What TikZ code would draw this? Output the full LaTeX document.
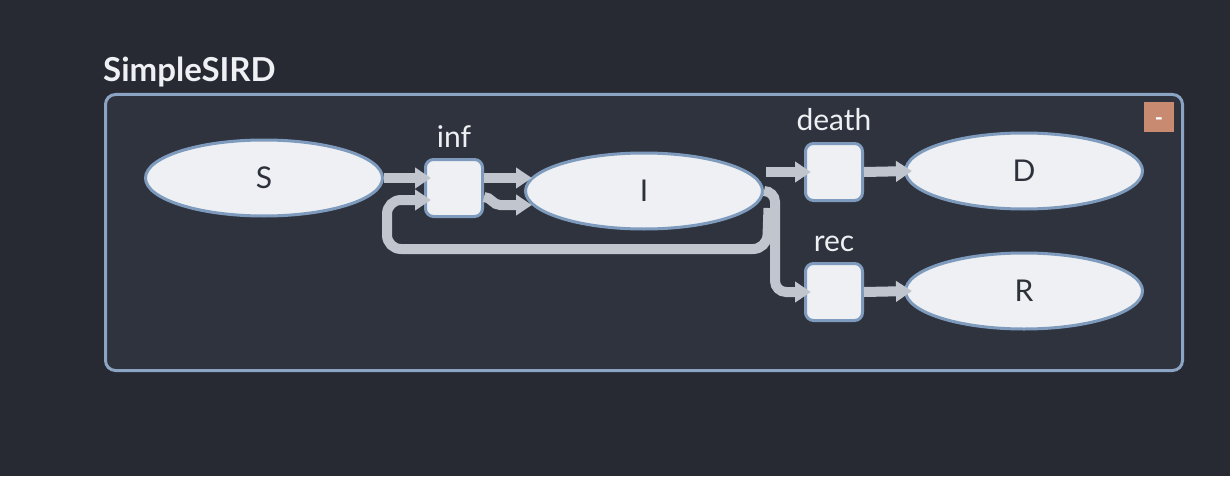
\documentclass[tikz,border=0pt]{standalone}
\usepackage{fontspec}
\setmainfont{Lato}
\usetikzlibrary{shapes.geometric,arrows.meta,calc}
\definecolor{bgout}{HTML}{272A33}
\definecolor{panelf}{HTML}{2F333E}
\definecolor{panelb}{HTML}{8BA4C3}
\definecolor{nodef}{HTML}{EEF0F4}
\definecolor{nodeb}{HTML}{7E9BBD}
\definecolor{arrowc}{HTML}{C1C5CD}
\definecolor{txtdark}{HTML}{2D313A}
\definecolor{txtlight}{HTML}{EEF0F4}
\definecolor{minusc}{HTML}{C98A72}
\begin{document}
\begin{tikzpicture}[x=1pt,y=-1pt,
  panel/.style={draw=panelb, fill=panelf, line width=3pt, rounded corners=10pt, minimum width=1077pt, minimum height=276pt, inner sep=0pt},
  place/.style={ellipse, draw=nodeb, fill=nodef, line width=3pt, minimum width=237pt, minimum height=76pt, inner sep=0pt, font=\fontsize{30}{32}\selectfont, text=txtdark},
  trans/.style={rectangle, rounded corners=8pt, draw=nodeb, fill=nodef, line width=3pt, minimum size=57pt, inner sep=0pt},
  lbl/.style={text=txtlight, font=\fontsize{30}{32}\selectfont, inner sep=0pt, anchor=base},
  flow/.style={draw=arrowc, line width=10pt, -{Triangle[length=16pt,width=20pt]}},
  titlest/.style={text=txtlight, font=\fontsize{33}{35}\selectfont\bfseries, inner sep=0pt, anchor=base west},
  minusbox/.style={fill=minusc, minimum size=30pt, inner sep=0pt},
  dashtxt/.style={text=white, font=\fontsize{22}{22}\selectfont\bfseries, inner sep=0pt, anchor=base}
]
\fill[bgout] (0,0) rectangle (1230,476);
\useasboundingbox (0,0) rectangle (1230,476);

\node[titlest] (title) at (103,82) {SimpleSIRD};
\node[panel] (sys) at (644,232.5) {};
\node[minusbox] (minus) at (1159,117) {};
\node[dashtxt] (minusl) at ([yshift=-8.5pt]minus.center) {-};

\node[place] (S) at (264,178) {S};
\node[place] (I) at (644,191) {I};
\node[place] (D) at (1024,171) {D};
\node[place] (R) at (1024,291) {R};

\node[trans] (inf) at (454,188) {};
\node[trans] (death) at (834,172) {};
\node[trans] (rec) at (834,292) {};

\node[lbl] (infl) at ([yshift=11pt]inf.north) {inf};
\node[lbl] (deathl) at ([yshift=11pt]death.north) {death};
\node[lbl] (recl) at ([yshift=11pt]rec.north) {rec};

\coordinate (fbT) at ([shift={(7pt,-12pt)}]inf.west);
\coordinate (fbR) at (767,249);
\coordinate (fbL) at (387,249);
\coordinate (rcTop) at (775,191);
\coordinate (rcBot) at (775,292);

\draw[flow] (S.east) -- ([shift={(7pt,10pt)}]inf.west);
\draw[flow] ([yshift=10pt]inf.east) -- ([shift={(8pt,13pt)}]I.west);
\draw[flow] ([yshift=-9pt]inf.east) to[out=0,in=180] ([shift={(16pt,-17pt)}]inf.east) -- ([shift={(8pt,-14pt)}]I.west);
\draw[flow, rounded corners=14pt] ([shift={(4.5pt,-17pt)}]I.east) -- (fbR) -- (fbL) -- (fbL |- fbT) -- (fbT);
\draw[flow] ([shift={(2pt,19pt)}]I.east) -- ([xshift=7pt]death.west);
\draw[flow, rounded corners=11pt] (I.east) -- (rcTop) -- (rcBot) -- ([xshift=7pt]rec.west);
\draw[flow] (death.east) -- ([xshift=8pt]D.west);
\draw[flow] (rec.east) -- ([xshift=8pt]R.west);
\end{tikzpicture}
\end{document}
